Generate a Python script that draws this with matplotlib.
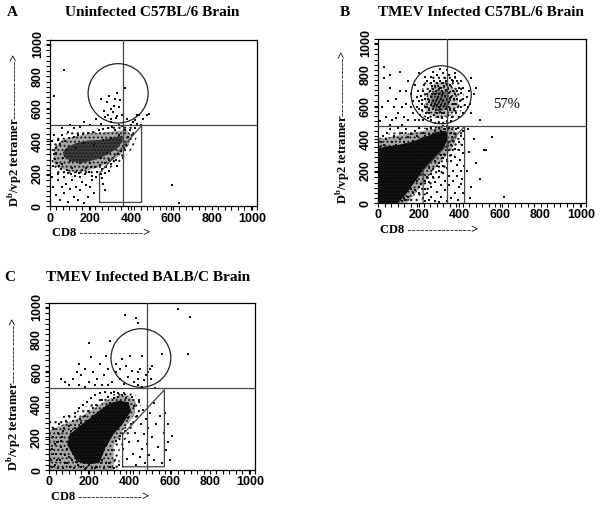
import numpy as np
import matplotlib
matplotlib.use("Agg")
import matplotlib.pyplot as plt
from matplotlib.patches import Ellipse
from matplotlib.ticker import MultipleLocator

plt.rcParams['mathtext.fontset'] = 'custom'
plt.rcParams['mathtext.rm'] = 'Liberation Serif'
plt.rcParams['mathtext.bf'] = 'Liberation Serif:bold'
plt.rcParams['hatch.linewidth'] = 0.9

# ---- panel titles ----
letters = ["A", "B", "C"]
titles = ["Uninfected C57BL/6 Brain", "TMEV Infected C57BL/6 Brain", "TMEV Infected BALB/C Brain"]
ticks = [0, 200, 400, 600, 800, 1000]

# ---- gates (quadrant lines, circle, trapezoid) ----
quad_x = [360, 341, 485]
quad_y = [500, 480, 502]
circ = [(337, 696, 297, 365), (311, 676, 296, 362), (456, 687, 298, 359)]
trap_A = ([245, 245, 453, 453, 245], [25, 205, 497, 25, 25])
trap_B = ([222, 222, 426, 426], [0, 205, 478, 0])
trap_C = ([365, 365, 573, 573, 365], [20, 217, 492, 20, 20])

A_out = [(5,240),(40,200),(110,180),(190,190),(260,215),(320,250),(370,300),(410,360),(430,430),
         (420,490),(360,495),(280,485),(200,475),(120,460),(50,440),(5,400)]
A_mid = [(15,270),(45,235),(100,215),(170,215),(240,240),(300,275),(350,320),(390,380),(400,440),
         (380,470),(330,465),(270,455),(200,450),(130,435),(60,410),(20,360)]
A_core = [(70,305),(110,275),(165,270),(230,290),(285,320),(330,355),(360,400),(355,435),
          (315,425),(255,410),(190,405),(130,390),(85,365),(65,335)]

B_out = [(0,0),(200,0),(260,90),(320,190),(380,300),(420,400),(415,470),(330,478),(230,470),
         (120,450),(40,430),(0,420)]
B_mid = [(0,0),(140,0),(190,70),(250,170),(310,260),(365,340),(390,420),(370,470),(300,470),
         (220,450),(130,430),(50,410),(0,400)]
B_core = [(0,0),(100,0),(140,60),(180,130),(220,200),(270,270),(320,340),(345,400),(335,450),
          (290,445),(230,410),(160,380),(90,360),(30,350),(0,340)]
B_top_out = [(220,540),(300,505),(380,520),(420,600),(420,720),(370,800),(290,810),(230,760),(205,660)]
B_top_mid = [(240,560),(300,530),(360,545),(395,610),(385,700),(340,760),(280,750),(245,690),(230,620)]
B_top_core = [(260,600),(300,570),(340,590),(350,650),(330,700),(290,710),(260,670)]

C_out = [(0,0),(350,0),(350,130),(400,230),(450,330),(460,430),(420,470),(340,470),(270,450),
         (200,400),(120,350),(40,320),(0,300)]
C_mid = [(0,0),(320,0),(320,150),(370,250),(425,340),(430,420),(395,455),(340,455),(280,425),
         (220,375),(140,315),(60,275),(0,240)]
C_core = [(110,110),(140,50),(200,35),(250,45),(280,140),(320,220),(370,290),(405,360),(395,415),
          (350,425),(300,410),(250,365),(200,315),(145,265),(100,215),(90,155)]

# ---- dots ----
A_dots = [(20,320),(25,290),(30,360),(35,270),(28,330),(45,250),(50,385),(55,230),(62,300),(70,215),
    (75,400),(85,225),(90,205),(95,420),(105,200),(110,235),(118,430),(125,190),(130,215),(140,440),
    (145,205),(150,180),(160,225),(165,445),(172,200),(180,235),(190,455),(195,215),(205,240),(210,190),
    (215,460),(225,245),(232,210),(240,470),(248,255),(255,230),(262,475),(270,270),(278,240),(285,480),
    (292,285),(300,260),(305,490),(312,300),(320,470),(328,285),(335,320),(342,500),(350,340),(358,495),
    (365,360),(372,470),(378,380),(388,430),(395,470),(400,500),(410,520),(420,480),(405,440),(430,505),
    (120,480),(90,460),(150,490),(200,500),(60,440),(40,410),(70,180),(110,160),(160,150),(210,165),
    (250,200),(290,220),(15,250),(40,200),(80,140),(130,120),(180,130),(230,180),(270,205),(330,250),
    (360,300),(300,540),(250,510),(270,550),(230,540),(330,555),(380,540),(440,560),(460,540),(480,560),
    (170,520),(100,500),(60,120),(40,160),(100,110),(150,100),(200,120),(120,60),(70,80),(50,40),
    (90,30),(140,40),(170,20),(30,70),(220,80),(260,140),(190,60),(10,180),(10,400),(20,440),
    (60,480),(15,120),(250,300),(280,330),(200,270),(150,270),(100,280),(130,360),(170,390),(220,380),
    (260,410),(300,420),(340,440),(80,350),(60,260),(255,175),(270,100),
    (280,640),(300,600),(310,580),(320,660),(330,700),(290,680),(340,610),(265,590),(355,560),(325,545),
    (300,520),(370,730),(250,660),(315,620),(345,655),(285,560),
    (70,840),(20,680),(605,135),(640,20),(420,530),(490,570),(450,500),(430,560)]

B_dots = [(5,320),(10,350),(15,380),(20,300),(25,420),(30,360),(40,400),(45,440),(55,350),(60,460),
    (70,380),(80,420),(90,360),(100,470),(110,400),(120,440),(130,380),(140,460),(150,410),(160,430),
    (170,390),(180,450),(190,420),(200,470),(210,400),(220,440),(230,420),(240,460),(250,430),(260,470),
    (270,410),(280,450),(290,430),(300,470),(310,450),(320,480),(330,465),(340,480),(350,470),(360,440),
    (365,410),(350,380),(360,360),(345,330),(330,300),(320,280),(300,250),(290,230),(270,210),(260,180),
    (240,160),(230,140),(210,120),(200,100),(180,80),(170,60),(150,40),(140,20),(120,10),(100,5),
    (130,30),(160,90),(190,140),(220,180),(250,220),(280,260),(310,300),(340,350),(370,390),(380,430),
    (385,460),(395,470),(200,60),(230,90),(250,130),(270,160),(300,200),(320,230),(340,270),(360,300),
    (380,340),(400,380),(410,420),(420,450),(220,30),(240,60),(260,100),(280,130),(300,160),(320,190),
    (340,220),(360,260),(380,290),(400,330),(415,360),(425,400),(230,10),(260,40),(290,70),(310,110),
    (330,140),(350,170),(370,200),(390,240),(405,270),(420,310),(250,20),(280,15),(310,40),(330,80),
    (350,110),(370,140),(390,170),(410,200),(425,230),(415,150),(400,100),(380,60),(360,30),(340,10),
    (300,5),(395,20),(420,60),(410,120),(440,200),(450,320),(460,100),(480,250),(470,400),(445,460),
    (500,150),(520,330),(455,30),
    (240,600),(250,630),(260,660),(270,590),(280,620),(290,650),(300,680),(310,610),(320,640),(330,670),
    (340,600),(350,630),(360,660),(370,700),(380,620),(390,650),(255,700),(265,730),(275,760),(285,700),
    (295,730),(305,760),(315,700),(325,730),(335,760),(345,710),(355,740),(365,770),(230,650),(220,700),
    (215,620),(235,560),(245,530),(260,520),(275,550),(285,580),(295,540),(305,570),(315,530),(325,560),
    (335,590),(345,550),(355,580),(365,540),(375,580),(385,560),(395,600),(405,640),(410,690),(400,720),
    (390,760),(380,790),(350,800),(320,810),(290,800),(260,790),(240,760),(225,740),(210,670),(200,590),
    (205,550),(220,520),(300,500),(320,500),(340,510),(360,510),(280,500),(250,560),(270,640),(290,610),
    (310,650),(330,620),(300,600),(280,680),(320,690),(340,650),(260,610),(350,690),(310,720),(290,750),
    (330,780),(270,710),(240,680),(370,620),(380,680),(360,730),(300,630),(305,590),(295,660),(315,675),
    (285,640),(325,605),(275,605),(345,625),(265,680),(335,705),(355,655),(245,650),(375,650),(315,560),
    (290,560),(350,600),(230,600),(390,700),(280,730),(300,710),(320,750),(340,740),(260,750),(370,760),
    (250,580),(410,600),(420,650),(420,560),(430,610),(400,540),(215,580),(200,640),(195,700),(230,790),
    (270,820),(340,830),(380,810),(410,760),(420,720),(305,840),(440,660),(445,600),(200,520),(190,600),
    (30,780),(60,720),(90,650),(110,700),(140,620),(160,680),(170,560),(130,540),(100,560),(80,600),
    (50,640),(40,540),(70,520),(120,600),(150,760),(180,740),(180,520),(20,600),(60,800),(110,820),
    (150,520),(90,530),(200,810),(140,700),(170,640),(120,490),(60,490),(10,510),(160,600),(190,660),
    (460,560),(470,680),(455,620),(500,520),(480,720),(460,780),
    (530,330),(560,410),(620,40),(450,700),(30,850)]

C_dots = [(10,60),(15,130),(20,200),(25,250),(30,30),(35,100),(40,170),(45,230),(50,280),(55,60),
    (60,140),(65,200),(70,10),(75,260),(80,90),(85,300),(90,40),(95,170),(100,330),(105,20),
    (110,240),(115,60),(120,300),(125,10),(130,350),(135,50),(140,200),(145,30),(150,380),(155,310),
    (160,20),(165,250),(170,400),(175,40),(180,330),(185,10),(190,420),(195,360),(200,30),(205,280),
    (210,440),(215,15),(220,380),(225,50),(230,460),(235,400),(240,20),(245,110),(250,470),(255,40),
    (260,430),(265,120),(270,10),(275,480),(280,90),(285,160),(290,450),(295,40),(300,200),(305,470),
    (310,120),(315,250),(320,480),(325,60),(330,180),(335,270),(340,470),(345,30),(350,210),(355,300),
    (360,460),(365,130),(375,240),(380,440),(385,70),(390,320),(395,170),(405,280),(410,450),(415,100),
    (420,390),(425,230),(430,30),(435,330),(440,180),(445,420),(450,80),(455,280),(460,130),(465,370),
    (470,220),(475,40),(480,310),(485,160),(490,260),(495,90),(500,350),(510,200),(520,60),(530,280),
    (540,140),(550,330),(560,40),(570,230),(580,120),(590,280),(600,60),(610,210),(575,350),(520,410),
    (590,170),(20,100),(40,60),(60,100),(80,40),(100,80),(120,120),(140,90),(160,60),(180,100),
    (200,70),(220,110),(240,80),(260,60),(280,40),(300,20),(30,160),(60,180),(90,130),(110,180),
    (130,150),(150,130),(170,160),(190,180),(210,150),(50,220),(70,240),(100,270),(130,260),(160,290),
    (190,300),(220,330),(250,350),(270,380),(300,410),(320,440),(340,445),(370,470),(390,410),(250,170),
    (270,220),(290,260),(310,300),(330,320),(350,350),(380,360),(400,370),(15,20),(45,15),(180,5),
    (230,10),(320,10),
    (120,560),(140,600),(160,580),(180,620),(200,540),(220,600),(240,560),(250,650),(270,580),(290,620),
    (300,790),(200,780),(310,540),(330,600),(350,560),(370,530),(380,640),(400,700),(420,540),(440,520),
    (460,510),(470,550),(480,580),(490,600),(500,620),(505,560),(510,640),(450,620),(440,600),(100,520),
    (80,540),(60,560),(150,520),(260,520),(290,520),(180,510),(230,520),(430,930),(440,900),(375,950),
    (525,500),(560,710),(690,710),(700,940),(640,990),(330,650),(350,620),(280,700),(210,690),(150,650),
    (440,560),(390,570),(410,610),(360,680),(460,700)]

# layer styles: (face colour, hatch) for outer, mid, core
A_style = [('none', '...'), ('#a8a8a8', '....'), ('#3c3c3c', '.....')]
BC_style = [('none', '...'), ('#a8a8a8', '....'), ('#0a0a0a', '.....')]
Btop_style = [('none', '...'), ('#c0c0c0', '....'), ('#7a7a7a', '.....')]

panels = [
    dict(rect=[0.0832, 0.5959, 0.3444, 0.3258],
         layers=list(zip([A_out, A_mid, A_core], A_style)),
         dots=A_dots, trap=trap_A, letter_xy=(12, 13), title_xy=(152, 13)),
    dict(rect=[0.6290, 0.6027, 0.3461, 0.3209],
         layers=list(zip([B_out, B_mid, B_core], BC_style))
                + list(zip([B_top_out, B_top_mid, B_top_core], Btop_style)),
         dots=B_dots, trap=trap_B, letter_xy=(345, 13), title_xy=(481, 13)),
    dict(rect=[0.0820, 0.0802, 0.3423, 0.3268],
         layers=list(zip([C_out, C_mid, C_core], BC_style)),
         dots=C_dots, trap=trap_C, letter_xy=(10, 277), title_xy=(148, 277)),
]

W, H = 601, 511
fig = plt.figure(figsize=(W / 100, H / 100), dpi=100)
fig.patch.set_facecolor('white')

for i, p in enumerate(panels):
    ax = fig.add_axes(p['rect'])
    for z, (poly, (face, hatch)) in enumerate(p['layers']):
        px, py = zip(*poly)
        ax.fill(px, py, facecolor=face, edgecolor='#1a1a1a', hatch=hatch, lw=0, zorder=1 + z * 0.1)
    dx, dy = zip(*p['dots'])
    ax.scatter(dx, dy, s=0.8, marker='s', c='#111111', linewidths=0, zorder=3)

    gc = '#444444'
    ax.axvline(quad_x[i], color=gc, lw=0.9, zorder=4)
    ax.axhline(quad_y[i], color=gc, lw=0.9, zorder=4)
    cx, cy, cw, ch = circ[i]
    ax.add_patch(Ellipse((cx, cy), cw, ch, fill=False, ec='#222222', lw=0.9, zorder=4))
    ax.plot(p['trap'][0], p['trap'][1], color=gc, lw=0.9, zorder=4)

    ax.set_xlim(0, 1024)
    ax.set_ylim(0, 1024)
    ax.set_xticks(ticks)
    ax.set_yticks(ticks)
    ax.xaxis.set_minor_locator(MultipleLocator(32))
    ax.yaxis.set_minor_locator(MultipleLocator(32))
    ax.tick_params(which='both', direction='out', length=3, width=0.8, pad=1.5,
                   top=False, right=False)
    for lab in ax.get_xticklabels() + ax.get_yticklabels():
        lab.set_fontfamily('Liberation Sans')
        lab.set_fontweight('bold')
        lab.set_fontsize(9)
    for lab in ax.get_yticklabels():
        lab.set_rotation(90)
        lab.set_va('center')
    for sp in ax.spines.values():
        sp.set_linewidth(0.9)

    lx, ly = p['letter_xy']
    fig.text(lx / W, 1 - ly / H, letters[i], fontsize=11, fontweight='bold',
             family='Liberation Serif', ha='center', va='center')
    tx, ty = p['title_xy']
    fig.text(tx / W, 1 - ty / H, titles[i], fontsize=11, fontweight='bold',
             family='Liberation Serif', ha='center', va='center')

    # axis captions placed relative to the axes box
    x0, y0, w, h = p['rect']
    fig.text(x0 - 35 / W, y0 - 1 / H, r'D$^{\mathbf{b}}$/vp2 tetramer' + '-' * 14 + '>',
             rotation=90, fontsize=9, fontweight='bold', family='Liberation Serif',
             ha='center', va='bottom')
    fig.text(x0 + 2 / W, y0 - 27 / H, 'CD8 ' + '-' * 15 + '>', fontsize=9, fontweight='bold',
             family='Liberation Serif', ha='left', va='center')

fig.text(507 / W, 1 - 104 / H, '57%', fontsize=10.5, family='Liberation Serif',
         ha='center', va='center')

fig.savefig('out.png', dpi=100, facecolor='white')
